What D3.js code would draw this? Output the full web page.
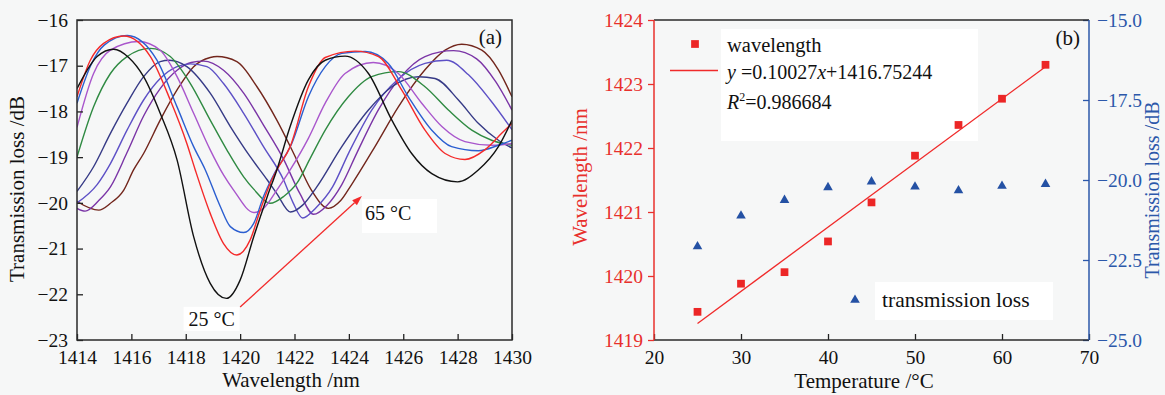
<!DOCTYPE html>
<html><head><meta charset="utf-8">
<script src="https://cdn.jsdelivr.net/npm/d3@7"></script>
<style>
html,body{margin:0;padding:0;background:#f6f7f7;}
svg{display:block;}
svg text{font-family:"Liberation Serif","Times New Roman",serif;}
</style></head><body>
<svg id="c" width="1165" height="395"></svg>
<script>
// ---------- Panel (a): transmission spectra at 25..65 °C ----------
const temperatures = [25, 30, 35, 40, 45, 50, 55, 60, 65];

const wl25 = [1414, 1414.37, 1414.74, 1415.35, 1415.9, 1416.45, 1417.06, 1417.68, 1418.29, 1418.9, 1419.5, 1420.0, 1420.5, 1421.0, 1421.35, 1421.84, 1422.51, 1423.13, 1423.86, 1424.72, 1425.58, 1426.31, 1427.05, 1428.0, 1428.76, 1429.5, 1430];
const loss25 = [-17.5, -17.1, -16.8, -16.64, -16.82, -17.24, -18.04, -19.06, -20.74, -21.76, -22.09, -21.69, -20.74, -19.86, -19.28, -18.33, -17.31, -16.88, -16.79, -17.17, -18.19, -18.92, -19.36, -19.54, -19.28, -18.77, -18.19];

const wl30 = [1414, 1414.49, 1414.98, 1415.72, 1416.7, 1417.43, 1418.04, 1418.35, 1418.9, 1419.39, 1419.88, 1420.37, 1420.74, 1421.11, 1421.35, 1421.84, 1422.51, 1423.13, 1424.23, 1425.09, 1425.94, 1426.8, 1427.54, 1428.27, 1429.0, 1429.62, 1430];
const loss30 = [-17.68, -16.88, -16.51, -16.35, -16.8, -17.75, -18.7, -19.28, -20.23, -20.89, -21.14, -20.81, -20.16, -19.57, -19.28, -18.77, -17.46, -16.82, -16.68, -16.8, -17.53, -18.41, -18.92, -19.05, -18.84, -18.48, -18.26];

const wl35 = [1414, 1414.5, 1415.0, 1415.85, 1416.94, 1417.68, 1418.29, 1418.72, 1419.27, 1419.64, 1420.13, 1420.5, 1420.86, 1421.23, 1421.9, 1422.51, 1423.13, 1423.74, 1424.6, 1425.45, 1426.19, 1427.05, 1427.78, 1428.76, 1429.5, 1430];
const loss35 = [-17.82, -17.0, -16.55, -16.34, -16.88, -17.9, -18.77, -19.28, -20.08, -20.52, -20.65, -20.45, -19.86, -19.39, -18.7, -17.68, -17.02, -16.73, -16.69, -16.95, -17.68, -18.41, -18.77, -18.86, -18.74, -18.63];

const wl40 = [1414, 1414.61, 1415.23, 1416.27, 1417.06, 1417.68, 1418.29, 1418.9, 1419.4, 1419.76, 1420.5, 1420.86, 1421.35, 1421.84, 1422.5, 1423.13, 1423.86, 1424.9, 1425.82, 1426.68, 1427.42, 1428.27, 1429.25, 1430];
const loss40 = [-18.35, -17.17, -16.66, -16.47, -16.66, -17.24, -18.04, -18.84, -19.4, -19.72, -20.21, -20.12, -19.72, -19.28, -18.6, -17.82, -17.17, -16.93, -17.17, -17.82, -18.33, -18.66, -18.74, -18.7];

const wl45 = [1414, 1414.61, 1415.23, 1415.84, 1416.7, 1417.43, 1418.17, 1418.9, 1419.51, 1420.13, 1420.5, 1421.1, 1421.6, 1422.09, 1422.6, 1423.13, 1423.98, 1424.84, 1425.82, 1426.8, 1427.66, 1428.52, 1429.25, 1430];
const loss45 = [-19.0, -17.9, -17.17, -16.8, -16.62, -16.8, -17.39, -18.19, -18.84, -19.43, -19.7, -20.01, -19.86, -19.57, -19.0, -18.41, -17.68, -17.24, -17.13, -17.46, -17.97, -18.41, -18.63, -18.74];

const wl50 = [1414, 1414.61, 1415.23, 1415.84, 1416.45, 1417.06, 1417.4, 1418.04, 1418.9, 1419.64, 1420.37, 1421.0, 1421.35, 1421.85, 1422.3, 1422.82, 1423.74, 1424.72, 1425.58, 1426.56, 1427.17, 1428.03, 1428.76, 1429.5, 1430];
const loss50 = [-19.75, -19.21, -18.48, -17.82, -17.24, -16.91, -16.88, -17.02, -17.6, -18.33, -18.99, -19.5, -19.8, -20.2, -20.05, -19.65, -18.77, -17.97, -17.46, -17.24, -17.28, -17.75, -18.26, -18.63, -18.8];

const wl55 = [1414, 1414.74, 1415.23, 1415.84, 1416.45, 1417.06, 1417.68, 1418.17, 1418.78, 1419.39, 1420.13, 1420.86, 1421.6, 1421.95, 1422.3, 1422.8, 1423.4, 1424.0, 1424.84, 1425.8, 1426.8, 1427.6, 1428.4, 1429.2, 1430];
const loss55 = [-20.0, -19.6, -19.14, -18.41, -17.75, -17.28, -17.02, -16.96, -17.02, -17.39, -18.04, -18.77, -19.5, -20.0, -20.33, -20.1, -19.65, -18.9, -17.97, -17.3, -16.95, -16.88, -17.2, -17.75, -18.4];

const wl60 = [1414, 1414.3, 1414.8, 1415.23, 1415.84, 1416.45, 1417.06, 1417.68, 1418.2, 1418.66, 1419.39, 1420.13, 1420.86, 1421.6, 1422.2, 1422.7, 1423.2, 1423.74, 1424.3, 1425.1, 1425.9, 1426.8, 1427.85, 1428.7, 1429.4, 1430];
const loss60 = [-20.12, -20.18, -19.95, -19.65, -18.9, -18.1, -17.5, -17.1, -16.93, -16.9, -17.1, -17.6, -18.3, -19.05, -19.8, -20.25, -20.05, -19.6, -18.9, -17.95, -17.25, -16.8, -16.67, -16.85, -17.35, -17.97];

const wl65 = [1414, 1414.8, 1415.23, 1415.72, 1416.08, 1416.45, 1417.06, 1417.68, 1418.29, 1418.9, 1419.15, 1419.88, 1420.62, 1421.35, 1421.97, 1422.6, 1423.25, 1423.7, 1424.1, 1424.96, 1425.82, 1426.8, 1427.54, 1428.15, 1428.89, 1429.5, 1430];
const loss65 = [-19.97, -20.16, -20.01, -19.72, -19.28, -18.92, -18.19, -17.53, -17.02, -16.82, -16.8, -16.91, -17.46, -18.19, -18.92, -19.7, -20.12, -19.95, -19.6, -18.77, -17.9, -17.09, -16.66, -16.53, -16.66, -17.09, -17.68];

const wavelengthTicks = [1414, 1416, 1418, 1420, 1422, 1424, 1426, 1428, 1430];
const lossTicksA = [-23, -22, -21, -20, -19, -18, -17, -16];
const arrowFrom = [1420.0, -22.28];
const arrowTo = [1424.48, -19.85];

// ---------- Panel (b): peak wavelength & loss vs temperature ----------
const tempPoints = [25, 30, 35, 40, 45, 50, 55, 60, 65];
const peakWavelength = [1419.44, 1419.88, 1420.06, 1420.54, 1421.15, 1421.88, 1422.36, 1422.77, 1423.30];
const peakLoss = [-22.08, -21.12, -20.63, -20.23, -20.05, -20.21, -20.33, -20.19, -20.13];
const fitSlope = 0.10027;
const fitIntercept = 1416.75244;
const tempTicks = [20, 30, 40, 50, 60, 70];
const wavelengthTicksB = [1419, 1420, 1421, 1422, 1423, 1424];
const lossTicksB = [-25, -22.5, -20, -17.5, -15];

// ---------- styles ----------
const seriesColors = ["#111111", "#f42a2a", "#2b5ed0", "#a956cc", "#2f8a42", "#363a86", "#5d50c6", "#7a34a6", "#72261c"];
const redC = "#e8302c", blueC = "#2c58aa";

const svg = d3.select("#c");
svg.append("rect").attr("width", 1165).attr("height", 395).attr("fill", "#f6f7f7");

// ======== Panel (a) ========
const A = {l: 77, r: 512, t: 20, b: 340};
const xA = d3.scaleLinear().domain([1414, 1430]).range([A.l, A.r]);
const yA = d3.scaleLinear().domain([-23, -16]).range([A.b, A.t]);

svg.append("clipPath").attr("id", "clipA").append("rect")
  .attr("x", A.l).attr("y", A.t).attr("width", A.r - A.l).attr("height", A.b - A.t);

const series = [
  [wl25, loss25], [wl30, loss30], [wl35, loss35], [wl40, loss40], [wl45, loss45],
  [wl50, loss50], [wl55, loss55], [wl60, loss60], [wl65, loss65]
].map((p, i) => ({t: temperatures[i], pts: p[0].map((w, j) => [w, p[1][j]])}));

const lineA = d3.line().x(d => xA(d[0])).y(d => yA(d[1])).curve(d3.curveMonotoneX);
const gCurves = svg.append("g").attr("clip-path", "url(#clipA)");
series.slice().reverse().forEach((s) => {
  const i = temperatures.indexOf(s.t);
  gCurves.append("path").attr("d", lineA(s.pts)).attr("fill", "none")
    .attr("stroke", seriesColors[i]).attr("stroke-width", 1.4);
});

// label boxes
svg.append("rect").attr("x", xA(1418.95) - 28).attr("y", yA(-22.69) - 19).attr("width", 56).attr("height", 24).attr("fill", "#ffffff");
svg.append("rect").attr("x", xA(1424.59) - 3).attr("y", yA(-20.375) - 21).attr("width", 75).attr("height", 34).attr("fill", "#ffffff");

// arrow
{
  const x1 = xA(arrowFrom[0]), y1 = yA(arrowFrom[1]), x2 = xA(arrowTo[0]), y2 = yA(arrowTo[1]);
  const ang = Math.atan2(y2 - y1, x2 - x1), L = 10, W = 3.5;
  const bx = x2 - L * Math.cos(ang), by = y2 - L * Math.sin(ang);
  svg.append("line").attr("x1", x1).attr("y1", y1).attr("x2", bx).attr("y2", by)
    .attr("stroke", "#f22a2a").attr("stroke-width", 1.3);
  svg.append("path").attr("d", `M${x2},${y2}L${bx - W * Math.sin(ang)},${by + W * Math.cos(ang)}L${bx + W * Math.sin(ang)},${by - W * Math.cos(ang)}Z`)
    .attr("fill", "#f22a2a");
}
svg.append("text").attr("x", xA(1418.95)).attr("y", yA(-22.69)).attr("text-anchor", "middle")
  .attr("font-size", 20).attr("fill", "#111").text("25 °C");
svg.append("text").attr("x", xA(1424.59)).attr("y", yA(-20.375)).attr("text-anchor", "start")
  .attr("font-size", 20).attr("fill", "#111").text("65 °C");

// axes a
const axA_x = svg.append("g").attr("transform", `translate(0,${A.b})`)
  .call(d3.axisBottom(xA).tickValues(wavelengthTicks).tickSizeInner(-6).tickSizeOuter(0).tickPadding(10.5).tickFormat(d3.format("d")));
const axA_y = svg.append("g").attr("transform", `translate(${A.l},0)`)
  .call(d3.axisLeft(yA).tickValues(lossTicksA).tickSizeInner(-6).tickSizeOuter(0).tickPadding(9).tickFormat(d3.format("d")));
[axA_x, axA_y].forEach(g => {
  g.attr("font-family", null).attr("font-size", null);
  g.select(".domain").remove();
  g.selectAll(".tick line").attr("stroke", "#222").attr("stroke-width", 1.3);
  g.selectAll(".tick text").attr("font-size", 19.5).attr("fill", "#111");
});
svg.append("rect").attr("x", A.l).attr("y", A.t).attr("width", A.r - A.l).attr("height", A.b - A.t)
  .attr("fill", "none").attr("stroke", "#2a2a2a").attr("stroke-width", 1.5);

svg.append("text").attr("x", 291).attr("y", 387).attr("text-anchor", "middle").attr("font-size", 21).attr("fill", "#111").text("Wavelength /nm");
svg.append("text").attr("transform", "translate(24,189) rotate(-90)").attr("text-anchor", "middle").attr("font-size", 21).attr("fill", "#111").text("Transmission loss /dB");
svg.append("text").attr("x", 502).attr("y", 44).attr("text-anchor", "end").attr("font-size", 21).attr("fill", "#111").text("(a)");

// ======== Panel (b) ========
const B = {l: 654, r: 1089, t: 20, b: 340};
const xB = d3.scaleLinear().domain([20, 70]).range([B.l, B.r]);
const yBL = d3.scaleLinear().domain([1419, 1424]).range([B.b, B.t]);
const yBR = d3.scaleLinear().domain([-25, -15]).range([B.b, B.t]);

// legend boxes
svg.append("rect").attr("x", 721).attr("y", 29).attr("width", 257).attr("height", 112).attr("fill", "#ffffff");
svg.append("rect").attr("x", 875).attr("y", 282).attr("width", 178).attr("height", 38).attr("fill", "#ffffff");

// fit line
const fitLine = d3.line().x(d => xB(d)).y(d => yBL(fitSlope * d + fitIntercept));
svg.append("path").attr("d", fitLine([tempPoints[0], tempPoints[tempPoints.length - 1]]))
  .attr("fill", "none").attr("stroke", "#f02a2a").attr("stroke-width", 1.3);

const sq = d3.symbol().type(d3.symbolSquare).size(60);
const tri = d3.symbol().type(d3.symbolTriangle).size(40);
svg.append("g").selectAll("path").data(tempPoints).join("path")
  .attr("transform", (d, i) => `translate(${xB(d)},${yBL(peakWavelength[i])})`)
  .attr("d", sq).attr("fill", "#ec2626");
svg.append("g").selectAll("path").data(tempPoints).join("path")
  .attr("transform", (d, i) => `translate(${xB(d)},${yBR(peakLoss[i])})`)
  .attr("d", tri).attr("fill", "#2451a4");

// legend
svg.append("path").attr("transform", "translate(695,44)").attr("d", sq).attr("fill", "#ec2626");
svg.append("line").attr("x1", 670).attr("x2", 718).attr("y1", 70.5).attr("y2", 70.5).attr("stroke", "#f02a2a").attr("stroke-width", 1.3);
svg.append("text").attr("x", 727).attr("y", 52).attr("font-size", 20.5).attr("fill", "#111").text("wavelength");
const eq = svg.append("text").attr("x", 727).attr("y", 79).attr("font-size", 20).attr("fill", "#111");
eq.append("tspan").attr("font-style", "italic").text("y");
eq.append("tspan").text(" =" + fitSlope.toFixed(5));
eq.append("tspan").attr("font-style", "italic").text("x");
eq.append("tspan").text("+" + fitIntercept.toFixed(5));
const r2 = svg.append("text").attr("x", 727).attr("y", 109).attr("font-size", 20).attr("fill", "#111");
r2.append("tspan").attr("font-style", "italic").text("R");
r2.append("tspan").attr("font-size", 12).attr("dy", -8).text("2");
r2.append("tspan").attr("dy", 8).text("=0.986684");
svg.append("path").attr("transform", "translate(855,300)").attr("d", tri).attr("fill", "#2451a4");
svg.append("text").attr("x", 882).attr("y", 307).attr("font-size", 21.5).attr("fill", "#111").text("transmission loss");

// axes b
const axB_x = svg.append("g").attr("transform", `translate(0,${B.b})`)
  .call(d3.axisBottom(xB).tickValues(tempTicks).tickSizeInner(-6).tickSizeOuter(0).tickPadding(10.5).tickFormat(d3.format("d")));
const axB_l = svg.append("g").attr("transform", `translate(${B.l},0)`)
  .call(d3.axisLeft(yBL).tickValues(wavelengthTicksB).tickSizeInner(6).tickSizeOuter(0).tickPadding(5).tickFormat(d3.format("d")));
const axB_r = svg.append("g").attr("transform", `translate(${B.r},0)`)
  .call(d3.axisRight(yBR).tickValues(lossTicksB).tickSizeInner(-6).tickSizeOuter(0).tickPadding(8).tickFormat(d3.format(".1f")));
[[axB_x, "#111", "#222"], [axB_l, redC, redC], [axB_r, blueC, blueC]].forEach(([g, tc, lc]) => {
  g.attr("font-family", null).attr("font-size", null);
  g.select(".domain").remove();
  g.selectAll(".tick line").attr("stroke", lc).attr("stroke-width", 1.3);
  g.selectAll(".tick text").attr("font-size", 19.5).attr("fill", tc);
});
svg.append("line").attr("x1", B.l).attr("x2", B.r).attr("y1", B.t).attr("y2", B.t).attr("stroke", "#2a2a2a").attr("stroke-width", 1.5);
svg.append("line").attr("x1", B.l).attr("x2", B.r).attr("y1", B.b).attr("y2", B.b).attr("stroke", "#2a2a2a").attr("stroke-width", 1.5);
svg.append("line").attr("x1", B.l).attr("x2", B.l).attr("y1", B.t).attr("y2", B.b).attr("stroke", redC).attr("stroke-width", 1.5);
svg.append("line").attr("x1", B.r).attr("x2", B.r).attr("y1", B.t).attr("y2", B.b).attr("stroke", blueC).attr("stroke-width", 1.5);

svg.append("text").attr("x", 864).attr("y", 388).attr("text-anchor", "middle").attr("font-size", 21).attr("fill", "#111").text("Temperature /°C");
svg.append("text").attr("transform", "translate(587,177) rotate(-90)").attr("text-anchor", "middle").attr("font-size", 21).attr("fill", redC).text("Wavelength /nm");
svg.append("text").attr("transform", "translate(1159,190) rotate(-90)").attr("text-anchor", "middle").attr("font-size", 20).attr("fill", blueC).text("Transmission loss /dB");
svg.append("text").attr("x", 1080).attr("y", 45).attr("text-anchor", "end").attr("font-size", 21).attr("fill", "#111").text("(b)");
</script>
</body></html>
